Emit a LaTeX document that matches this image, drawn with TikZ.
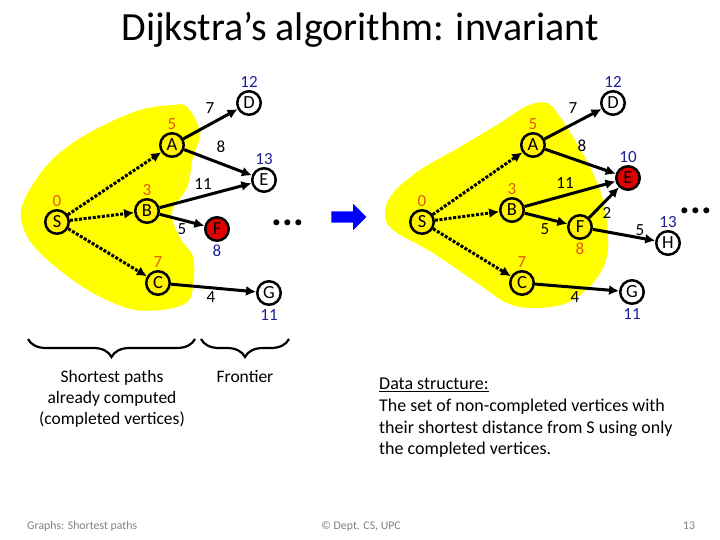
\documentclass[tikz,border=0pt]{standalone}
\usepackage{fontspec}
\setmainfont{Carlito}
\usetikzlibrary{shapes,arrows.meta,positioning,decorations.pathreplacing}

\definecolor{donecol}{RGB}{228,90,10}
\definecolor{distcol}{RGB}{30,30,150}
\definecolor{blobcol}{RGB}{255,255,0}
\definecolor{nextcol}{RGB}{225,0,0}

\begin{document}
\begin{tikzpicture}[x=1pt,y=-1pt]
\tikzstyle{vertex}=[circle,draw,line width=2.5pt,minimum size=23.5pt,inner sep=0pt,font=\fontsize{18.5}{18.5}\selectfont]
\tikzstyle{done}=[vertex,fill=yellow]
\tikzstyle{open}=[vertex,fill=white]
\tikzstyle{next}=[vertex,fill=nextcol]
\tikzstyle{link}=[line width=3pt,-{Latex[length=10pt,width=10pt]}]
\tikzstyle{treelink}=[link,dash pattern=on 3pt off 1.6pt]
\tikzstyle{wgt}=[inner sep=0pt,font=\fontsize{17}{17}\selectfont]
\tikzstyle{dist}=[inner sep=0pt,font=\fontsize{17}{17}\selectfont,text=distcol]
\tikzstyle{fixed}=[dist,text=donecol]
\tikzstyle{more}=[inner sep=0pt,font=\fontsize{40}{40}\bfseries]
\tikzstyle{foot}=[inner sep=0pt,text=gray,font=\fontsize{11.8}{13}\selectfont]
\useasboundingbox (0,0) rectangle (720,540);

% title
\node[anchor=base,inner sep=0pt,font=\fontsize{40}{44}\selectfont] (title) at (360,41) {Dijkstra’s algorithm: invariant};

% completed regions
\fill[blobcol] plot[smooth cycle,tension=0.6] coordinates {
 (173,105) (187,107) (200,132) (193,157) (187,187) (172,212) (180,238)
 (193,257) (193,287) (186,303) (160,310) (127,308) (83,287) (40,253)
 (23,227) (23,203) (43,170) (67,147) (100,127) (140,110)};
\fill[blobcol] plot[smooth cycle,tension=0.6] coordinates {
 (527,106) (547,103) (560,117) (573,137) (590,167) (603,200) (608,237)
 (606,260) (593,283) (567,303) (533,308) (507,303) (477,283) (433,253)
 (393,230) (385,213) (393,193) (420,170) (460,147) (500,123)};

% left graph
\node[done] (S) at (57,222) {S};
\node[done] (A) at (172,145) {A};
\node[done] (B) at (147,211) {B};
\node[done] (C) at (158,283) {C};
\node[open] (D) at (249,103) {D};
\node[open] (E) at (264,180) {E};
\node[next] (F) at (217,229) {F};
\node[open] (G) at (269,293) {G};

\draw[treelink] (S) -- (A);
\draw[treelink] (S) -- (B);
\draw[treelink] (S) -- (C);
\draw[link] (A) -- (D);
\draw[link] (A) -- (E);
\draw[link] (B) -- (E);
\draw[link] (B) -- (F);
\draw[link] (C) -- (G);

\node[fixed,above=2pt of S] (dS) {0};
\node[fixed,above=2pt of A] (dA) {5};
\node[fixed,above=2pt of B] (dB) {3};
\node[fixed,above=2pt of C] (dC) {7};
\node[dist,above=2pt of D] (dD) {12};
\node[dist,above=2pt of E] (dE) {13};
\node[dist,below=3pt of F] (dF) {8};
\node[dist,below=3pt of G] (dG) {11};

\node[wgt] (wAD) at (210,108) {7};
\node[wgt] (wAE) at (221,147) {8};
\node[wgt] (wBE) at (203,184) {11};
\node[wgt] (wBF) at (182,229) {5};
\node[wgt] (wCG) at (211,297) {4};

\node[more] (moreL) at (288,223) {...};

% step arrow
\node[single arrow,fill=blue,draw=none,minimum height=35pt,minimum width=26pt,
 single arrow head extend=7.5pt,inner sep=5.5pt] (step1) at (346,217) {};

% right graph
\node[done] (S2) at (422,222) {S};
\node[done] (A2) at (533,145) {A};
\node[done] (B2) at (512,210) {B};
\node[done] (C2) at (522,283) {C};
\node[open] (D2) at (613,103) {D};
\node[next] (E2) at (628,178) {E};
\node[done] (F2) at (580,227) {F};
\node[open] (G2) at (632,292) {G};
\node[open] (H2) at (668,243) {H};

\draw[treelink] (S2) -- (A2);
\draw[treelink] (S2) -- (B2);
\draw[treelink] (S2) -- (C2);
\draw[link] (A2) -- (D2);
\draw[link] (A2) -- (E2);
\draw[link] (B2) -- (E2);
\draw[link] (B2) -- (F2);
\draw[link] (C2) -- (G2);
\draw[link] (F2) -- (E2);
\draw[link] (F2) -- (H2);

\node[fixed,above=2pt of S2] (dS2) {0};
\node[fixed,above=2pt of A2] (dA2) {5};
\node[fixed,above=2pt of B2] (dB2) {3};
\node[fixed,above=2pt of C2] (dC2) {7};
\node[dist,above=2pt of D2] (dD2) {12};
\node[dist,above=2pt of E2] (dE2) {10};
\node[fixed,below=3pt of F2] (dF2) {8};
\node[dist,below=3pt of G2] (dG2) {11};
\node[dist,above=2pt of H2] (dH2) {13};

\node[wgt] (wAD2) at (573,108) {7};
\node[wgt] (wAE2) at (582,146) {8};
\node[wgt] (wBE2) at (565,183) {11};
\node[wgt] (wBF2) at (545,229) {5};
\node[wgt] (wFE2) at (607,213) {2};
\node[wgt] (wFH2) at (640,230) {5};
\node[wgt] (wCG2) at (575,297) {4};

\node[more] (moreR) at (696,211) {...};

% braces
\coordinate (b1s) at (28,339);
\coordinate (b1e) at (195,339);
\coordinate (b2s) at (201,339);
\coordinate (b2e) at (289,339);
\draw[line width=2.2pt,decorate,decoration={brace,mirror,amplitude=18pt}] (b1s) -- (b1e);
\draw[line width=2.2pt,decorate,decoration={brace,mirror,amplitude=18pt}] (b2s) -- (b2e);

\node[anchor=north,align=center,inner sep=0pt,font=\fontsize{17.5}{21}\selectfont] (done) at (112,370)
 {Shortest paths\\already computed\\(completed vertices)};
\node[anchor=north,inner sep=0pt,font=\fontsize{17.5}{21}\selectfont] (front) at (245,370) {Frontier};

\node[anchor=north west,align=left,inner sep=0pt,font=\fontsize{18}{21.7}\selectfont] (data) at (379,378)
 {\underline{Data structure:}\\The set of non-completed vertices with\\their shortest distance from S using only\\the completed vertices.};

% footer
\node[foot,anchor=west] (f1) at (27,526) {Graphs: Shortest paths};
\node[foot] (f2) at (361,526) {© Dept. CS, UPC};
\node[foot] (f3) at (689,526) {13};
\end{tikzpicture}
\end{document}
